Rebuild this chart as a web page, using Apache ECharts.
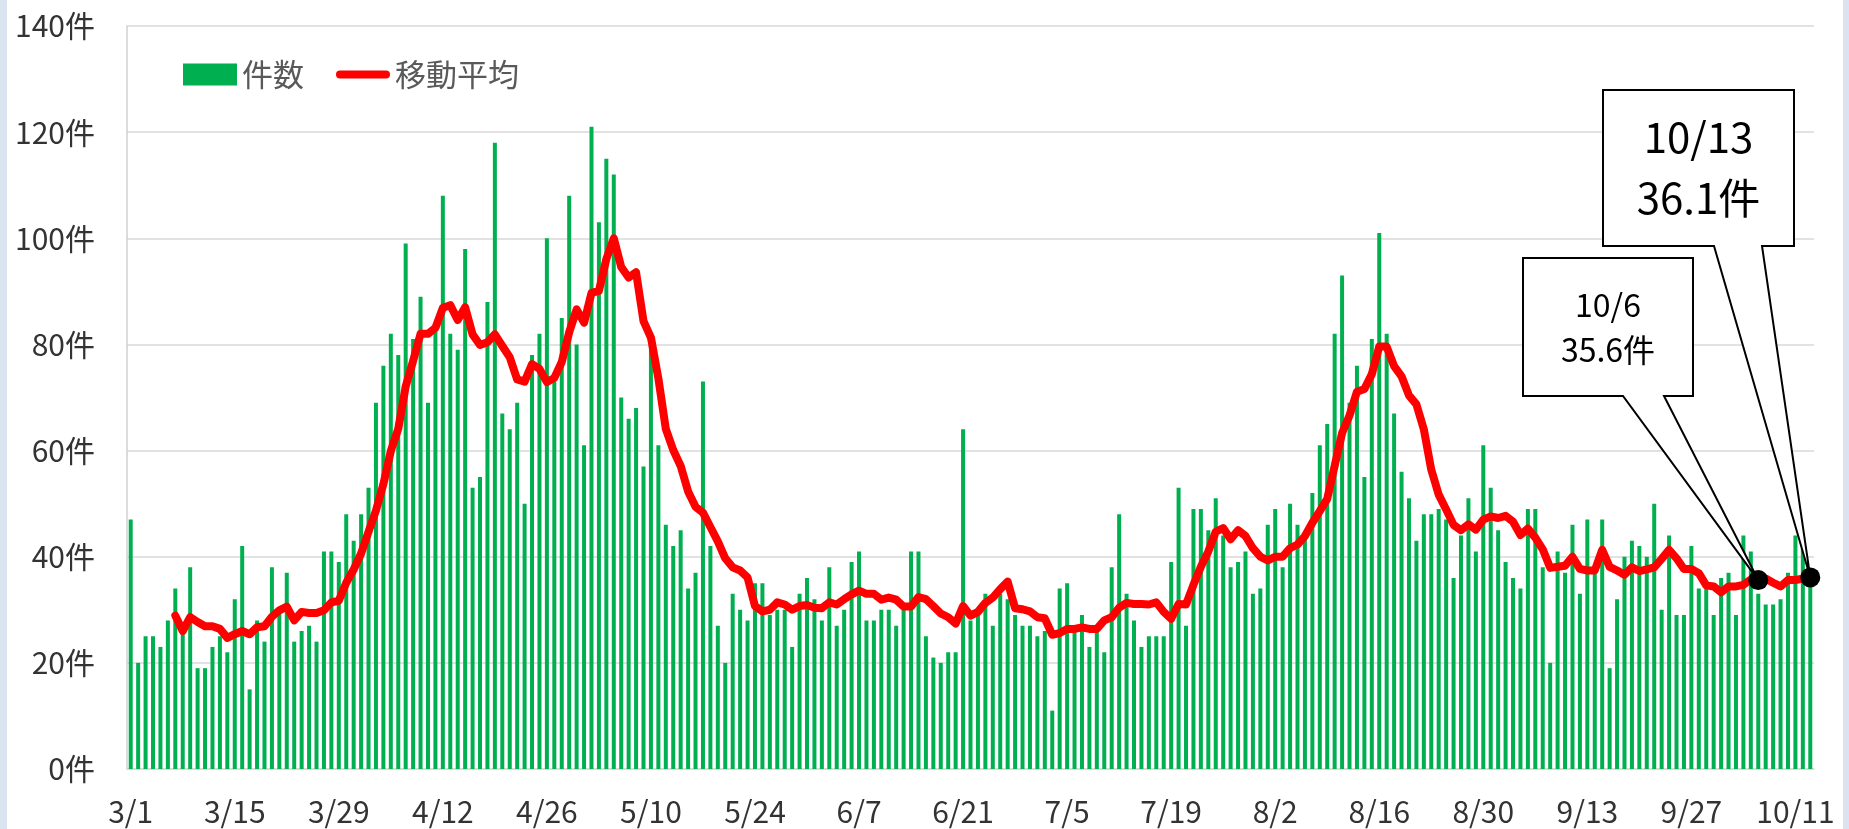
<!DOCTYPE html>
<html><head><meta charset="utf-8">
<script src="https://cdn.jsdelivr.net/npm/echarts@6/dist/echarts.min.js"></script>
<style>
html,body{margin:0;padding:0;background:#dae3f0;width:1849px;height:829px;overflow:hidden}
#c{position:absolute;left:7px;top:0;width:1836px;height:829px;background:#fff}
</style></head><body><div id="c"></div>
<script>
// month / number of days shown (3/1 .. 10/13)
const monthDays = [[3,31],[4,30],[5,31],[6,30],[7,31],[8,31],[9,30],[10,13]];
const categories = [];
monthDays.forEach(([m,n])=>{for(let d=1;d<=n;d++)categories.push(m+'/'+d);});

// 件数 (daily count)
const counts = [
47,20,25,25,23,28,34,27,38,19,
19,23,25,22,32,42,15,28,24,38,
30,37,24,26,27,24,41,41,39,48,
43,48,53,69,76,82,78,99,81,89,
69,84,108,82,79,98,53,55,88,118,
67,64,69,50,78,82,100,73,85,108,
80,61,121,103,115,112,70,66,68,57,
81,61,46,42,45,34,37,73,42,27,
20,33,30,28,35,35,29,30,30,23,
33,36,32,28,38,27,30,39,41,28,
28,30,30,27,30,41,41,25,21,20,
22,22,64,28,30,33,27,33,32,29,
27,27,25,26,11,34,35,27,29,23,
26,22,38,48,33,28,23,25,25,25,
39,53,27,49,49,45,51,44,38,39,
41,33,34,46,49,38,50,46,44,52,
61,65,82,93,69,76,55,81,101,82,
67,56,51,43,48,48,49,47,36,44,
51,41,61,53,45,39,36,34,49,49,
38,20,41,37,46,33,47,38,47,19,
32,40,43,42,40,50,30,44,29,29,
42,34,34,29,36,37,29,44,41,33,
31,31,32,37,44,43,35
];

// 移動平均 (7-day moving average, as drawn)
const movingAvg = [
null,null,null,null,null,null,
28.9,26.0,28.6,27.7,26.9,26.9,26.4,24.7,25.4,26.0,
25.4,26.7,26.9,28.7,29.9,30.6,28.0,29.6,29.4,29.4,
29.9,31.4,31.7,35.1,37.6,40.6,44.7,48.7,53.7,59.9,
64.1,72.1,76.9,82.0,82.0,83.1,86.9,87.4,84.6,87.0,
81.9,79.9,80.4,81.9,79.7,77.6,73.4,73.0,76.3,75.4,
72.9,73.7,76.7,82.3,86.6,84.1,89.7,90.1,96.1,100.0,
94.6,92.6,93.6,84.4,81.3,73.6,64.1,60.1,57.1,52.3,
49.4,48.3,45.6,42.9,39.7,38.0,37.4,36.1,30.7,29.7,
30.0,31.4,31.0,30.0,30.7,30.9,30.4,30.3,31.4,31.0,
32.0,32.9,33.6,33.0,33.0,31.9,32.3,31.9,30.6,30.6,
32.4,32.0,30.7,29.3,28.6,27.4,30.7,28.9,29.6,31.3,
32.3,33.9,35.3,30.3,30.1,29.7,28.6,28.4,25.3,25.6,
26.4,26.4,26.7,26.4,26.4,28.0,28.6,30.4,31.3,31.1,
31.1,31.0,31.4,29.6,28.3,31.1,31.0,34.7,38.1,41.0,
44.7,45.4,43.3,45.0,43.9,41.6,40.0,39.3,40.0,40.0,
41.6,42.3,43.9,46.4,48.6,50.9,57.1,63.3,66.6,71.1,
71.6,74.4,79.6,79.6,75.9,74.0,70.4,68.7,64.0,56.4,
51.7,48.9,46.0,45.0,46.1,45.1,47.0,47.6,47.3,47.7,
46.6,44.1,45.3,43.6,41.4,37.9,38.1,38.3,40.0,37.7,
37.4,37.4,41.3,38.1,37.4,36.6,38.0,37.3,37.6,38.0,
39.6,41.3,39.7,37.7,37.7,36.9,34.6,34.4,33.3,34.4,
34.4,34.7,35.7,35.6,35.9,35.1,34.4,35.6,35.6,35.9,36.1
];

// highlighted dates for callouts
const calloutDates = ['10/6','10/13'];

const FONT = '"Noto Sans CJK JP","Noto Sans",sans-serif';
const chart = echarts.init(document.getElementById('c'), null, {renderer:'canvas'});

const hlIdx = calloutDates.map(d=>categories.indexOf(d));

chart.setOption({
  animation:false,
  backgroundColor:'#ffffff',
  textStyle:{fontFamily:FONT},
  grid:{left:120,right:29,top:26,bottom:60},
  legend:{
    left:176, top:59, padding:0, itemWidth:54, itemHeight:22, itemGap:32,
    textStyle:{fontSize:31,color:'#595959',fontFamily:FONT},
    data:[
      {name:'件数',icon:'rect'},
      {name:'移動平均',icon:'path://M4,0 L50,0 A4,4 0 0 1 50,8 L4,8 A4,4 0 0 1 4,0 Z'}
    ]
  },
  xAxis:{
    type:'category', data:categories, boundaryGap:true,
    axisTick:{show:false},
    axisLine:{lineStyle:{color:'#d9d9d9',width:1.5}},
    axisLabel:{interval:13, margin:28, fontSize:30, color:'#333333', fontFamily:FONT}
  },
  yAxis:{
    type:'value', min:0, max:140, interval:20,
    axisLine:{show:true,lineStyle:{color:'#d0d0d0',width:1.5}},
    axisTick:{show:false},
    splitLine:{lineStyle:{color:'#d9d9d9',width:1.5}},
    axisLabel:{formatter:'{value}件', margin:32, fontSize:30, color:'#333333', fontFamily:FONT}
  },
  series:[
    {name:'件数', type:'bar', data:counts, barWidth:4, itemStyle:{color:'#00b050'}},
    {name:'移動平均', type:'line', data:movingAvg, symbol:'none', connectNulls:false,
     lineStyle:{color:'#ff0000',width:8,cap:'round',join:'round'},
     itemStyle:{color:'#ff0000'},
     markPoint:{
       z:100, symbol:'circle', symbolSize:20, itemStyle:{color:'#000000'}, label:{show:false},
       data: hlIdx.map(i=>({coord:[categories[i], movingAvg[i]]}))
     }}
  ]
});

// callout boxes (layout in container px)
const boxes = [
  {L:1516,T:258,R:1686,B:396,b1:1616,b2:1657,fs:32,gap:45},
  {L:1596,T:90,R:1787,B:246,b1:1707,b2:1755,fs:42,gap:61}
];
const graphics = [];
hlIdx.forEach((idx,k)=>{
  const b = boxes[k];
  const tip = chart.convertToPixel({xAxisIndex:0,yAxisIndex:0},[categories[idx], movingAvg[idx]]);
  graphics.push({type:'polygon', z:50, shape:{points:[[b.L,b.T],[b.R,b.T],[b.R,b.B],[b.b2,b.B],tip,[b.b1,b.B],[b.L,b.B]]},
    style:{fill:'#ffffff',stroke:'#000000',lineWidth:2}});
  const cx=(b.L+b.R)/2, cy=(b.T+b.B)/2;
  graphics.push({type:'text', z:51, style:{text:categories[idx], x:cx, y:cy-b.gap/2, align:'center', verticalAlign:'middle', font:b.fs+'px '+FONT, fill:'#000000'}});
  graphics.push({type:'text', z:51, style:{text:movingAvg[idx].toFixed(1)+'件', x:cx, y:cy+b.gap/2, align:'center', verticalAlign:'middle', font:b.fs+'px '+FONT, fill:'#000000'}});
});
chart.setOption({graphic:graphics});
</script></body></html>
